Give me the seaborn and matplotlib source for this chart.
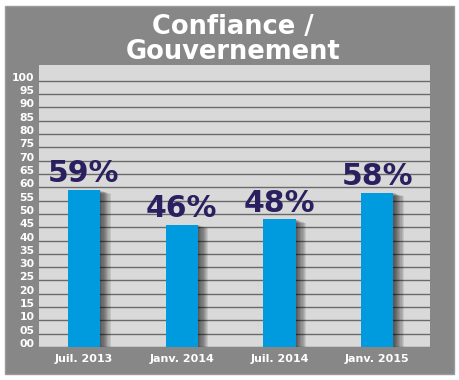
import numpy as np
import matplotlib.pyplot as plt
import matplotlib.patheffects as pe
from matplotlib.patches import Rectangle
import seaborn as sns

# data
periods = ["Juil. 2013", "Janv. 2014", "Juil. 2014", "Janv. 2015"]
confiance = [59, 46, 48, 58]
yticks = list(range(0, 101, 5))
ytick_labels = ["%02d" % t for t in yticks]

fig = plt.figure(figsize=(4.6, 3.8), dpi=100)
fig.patch.set_facecolor("white")

# grey panel behind everything
fig.patches.append(Rectangle((0.0109, 0.0158), 0.976, 0.968, transform=fig.transFigure,
                             facecolor="#878787", edgecolor="#9a9a9a", lw=1, zorder=-5))

ax = fig.add_axes([0.0854, 0.0868, 0.8494, 0.7421])
ax.set_facecolor("#d9d9d9")

sns.barplot(x=periods, y=confiance, color="#009ade", saturation=1, width=0.33, ax=ax, zorder=3)

# soft drop shadow on the bars
shadow = []
for k in range(1, 10):
    shadow.append(pe.SimplePatchShadow(offset=(k * 0.85, -k * 0.3), shadow_rgbFace="black", alpha=0.09))
for p in ax.patches:
    p.set_path_effects(shadow + [pe.Normal()])
    p.set_edgecolor("none")

for i, v in enumerate(confiance):
    ax.text(i, v + 0.6, f"{v}%", ha="center", va="bottom", fontsize=21.5,
            fontweight="bold", color="#2a2060", zorder=5)

ax.set_ylim(0, 105.9)
ax.set_xlim(-0.457, 3.54)
ax.set_yticks(yticks)
ax.set_yticklabels(ytick_labels)
for lab in ax.get_yticklabels():
    lab.set_va("baseline")
ax.yaxis.grid(True, color="#6a6a6a", lw=1)
ax.set_axisbelow(True)
ax.tick_params(length=0, colors="white", labelsize=8)
ax.tick_params(axis="y", pad=3.5, labelsize=7.8)
ax.tick_params(axis="x", pad=5)
for lab in ax.get_xticklabels() + ax.get_yticklabels():
    lab.set_fontweight("bold")
for s in ax.spines.values():
    s.set_visible(False)
ax.set_xlabel("")
ax.set_ylabel("")

fig.text(0.507, 0.962, "Confiance /\nGouvernement", ha="center", va="top",
         fontsize=18.5, fontweight="bold", color="white", linespacing=0.92)

fig.savefig("out.png", dpi=100)
